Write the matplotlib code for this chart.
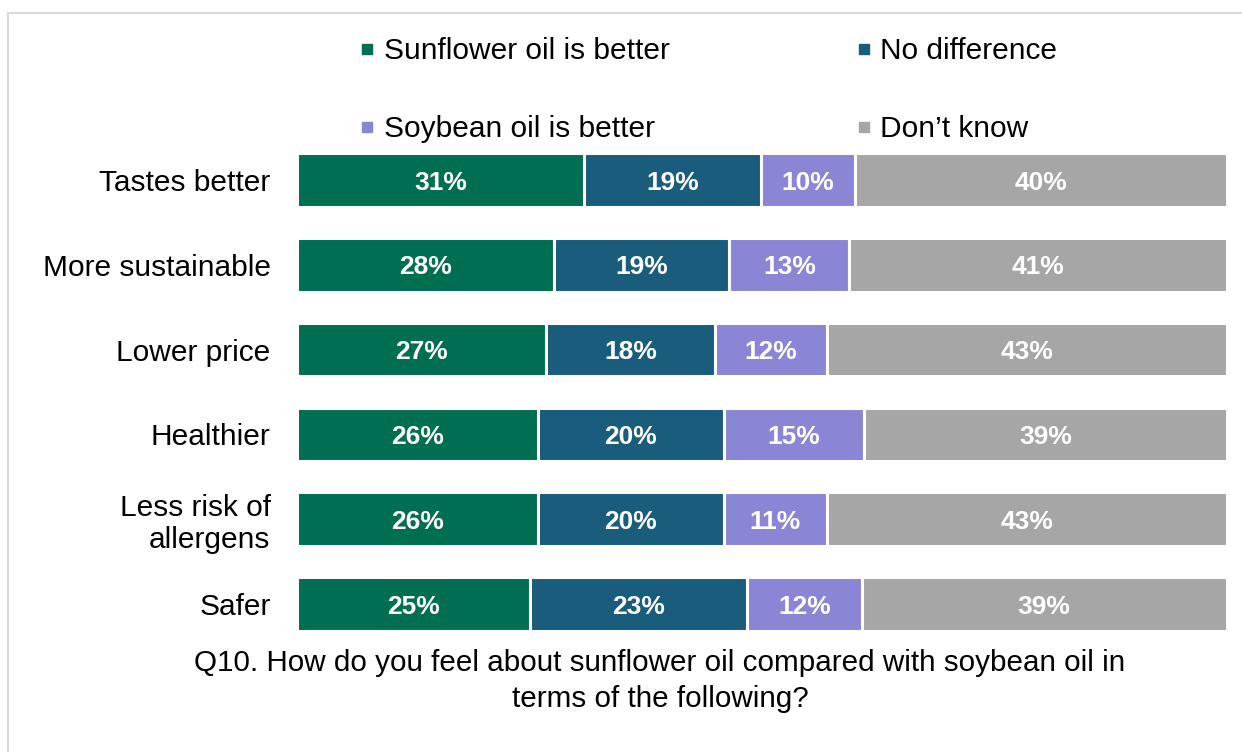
import matplotlib
matplotlib.use("Agg")
import matplotlib.pyplot as plt
import numpy as np
from matplotlib.lines import Line2D
from matplotlib.patches import Rectangle

plt.rcParams['font.family'] = ['Liberation Sans', 'DejaVu Sans']

# survey answers, share of respondents (%)
items = ['Tastes better', 'More sustainable', 'Lower price', 'Healthier',
         'Less risk of\nallergens', 'Safer']
sunflower = [30.9, 27.6, 26.8, 25.9, 25.9, 25.1]
no_diff = [19.0, 18.9, 18.1, 20.0, 20.0, 23.3]
soybean = [10.1, 12.9, 12.1, 15.1, 11.1, 12.3]
dont_know = [40.0, 40.6, 43.0, 39.0, 43.0, 39.3]

series = [
    ('Sunflower oil is better', sunflower, '#006E51'),
    ('No difference', no_diff, '#195C7B'),
    ('Soybean oil is better', soybean, '#8B85D6'),
    ('Don\u2019t know', dont_know, '#A6A6A6'),
]

W, H = 1242, 752
fig = plt.figure(figsize=(W / 100, H / 100), dpi=100)

# light frame around the chart area
fig.patches.append(Rectangle((8 / W, -0.05), 1.1, 1 - 13 / H + 0.05,
                             transform=fig.transFigure, fill=False,
                             edgecolor='#D9D9D9', linewidth=1.5))

ax = fig.add_axes([297 / W, 1 - 646.4 / H, 930 / W, (646.4 - 137.6) / H])
y = np.arange(len(items))
left = np.zeros(len(items))
for name, vals, col in series:
    vals = np.array(vals)
    ax.barh(y, vals, left=left, height=0.63, color=col,
            edgecolor='white', linewidth=2.2)
    for yi, l, v in zip(y, left, vals):
        ax.text(l + v / 2, yi, f'{v:.0f}%', ha='center', va='center_baseline',
                color='white', fontsize=19, fontweight='bold')
    left += vals

ax.set_xlim(0, 100)
ax.set_ylim(len(items) - 0.5, -0.5)
ax.set_yticks(y)
ax.set_yticklabels(items, fontsize=21.5, linespacing=1.15)
ax.set_xticks([])
ax.tick_params(axis='y', length=0, pad=19)
for s in ax.spines.values():
    s.set_visible(False)

handles = [Line2D([], [], marker='s', linestyle='none', markersize=7.5,
                  markerfacecolor=c, markeredgecolor=c) for _, _, c in series]
labels = [n for n, _, _ in series]
order = [0, 2, 1, 3]
fig.legend([handles[i] for i in order], [labels[i] for i in order],
           loc='upper left', bbox_to_anchor=(360 / W, 1 - 37 / H),
           ncol=2, frameon=False, fontsize=21.5, handlelength=0.5,
           handletextpad=0.3, labelspacing=1.68, columnspacing=6.25,
           borderaxespad=0, borderpad=0)

fig.text(660 / W, 1 - 681 / H,
         'Q10. How do you feel about sunflower oil compared with soybean oil in\n'
         'terms of the following?', ha='center', va='center', fontsize=21.3,
         linespacing=1.32)

fig.savefig('out.png', dpi=100)
